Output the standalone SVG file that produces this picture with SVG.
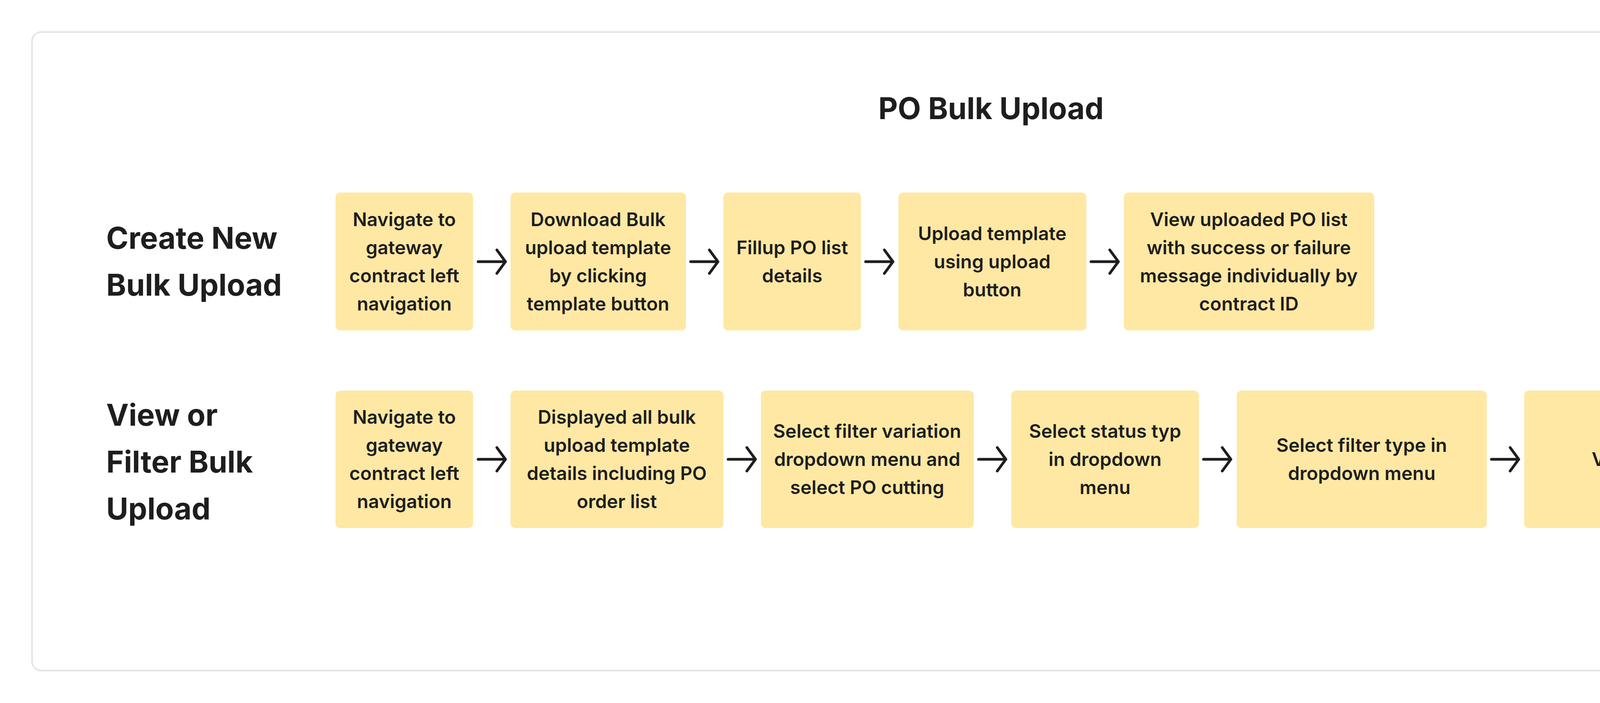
<svg xmlns="http://www.w3.org/2000/svg" width="5024" height="1800" viewBox="0 0 5024 1800">
<style>
.n{fill:#FEE8A3}
.t{font-family:Inter,"Liberation Sans",sans-serif;font-weight:600;font-size:48px;fill:#1e1e1e;text-anchor:middle}
.h{font-family:Inter,"Liberation Sans",sans-serif;font-weight:700;font-size:77px;fill:#1e1e1e}
.c{fill:none;stroke:#1e1e1e;stroke-width:7;stroke-linecap:round;stroke-linejoin:round}
</style>
<rect width="5024" height="1800" fill="#fff"/>
<rect x="82" y="82" width="4862" height="1635" rx="24" fill="#fff" stroke="#e4e4e4" stroke-width="4"/>
<text class="h" x="2537" y="305" text-anchor="middle" font-size="76">PO Bulk Upload</text>
<g id="lbl1"><text class="h" x="272" y="637">Create New</text><text class="h" x="272" y="757">Bulk Upload</text></g>
<g id="lbl2"><text class="h" x="272" y="1090">View or</text><text class="h" x="272" y="1210">Filter Bulk</text><text class="h" x="272" y="1330">Upload</text></g>
<g id="a1"><rect class="n" x="859" y="493" width="352" height="353" rx="12"/><text class="t" x="1035" y="579">Navigate to</text><text class="t" x="1035" y="651">gateway</text><text class="t" x="1035" y="723">contract left</text><text class="t" x="1035" y="795">navigation</text></g>
<g id="a2"><rect class="n" x="1307" y="493" width="449" height="353" rx="12"/><text class="t" x="1531" y="579">Download Bulk</text><text class="t" x="1531" y="651">upload template</text><text class="t" x="1531" y="723">by clicking</text><text class="t" x="1531" y="795">template button</text></g>
<g id="a3"><rect class="n" x="1852" y="493" width="352" height="353" rx="12"/><text class="t" x="2028" y="651">Fillup PO list</text><text class="t" x="2028" y="723">details</text></g>
<g id="a4"><rect class="n" x="2300" y="493" width="481" height="353" rx="12"/><text class="t" x="2540" y="615">Upload template</text><text class="t" x="2540" y="687">using upload</text><text class="t" x="2540" y="759">button</text></g>
<g id="a5"><rect class="n" x="2877" y="493" width="641" height="353" rx="12"/><text class="t" x="3197" y="579">View uploaded PO list</text><text class="t" x="3197" y="651">with success or failure</text><text class="t" x="3197" y="723">message individually by</text><text class="t" x="3197" y="795">contract ID</text></g>
<g id="b1"><rect class="n" x="859" y="1000" width="352" height="352" rx="12"/><text class="t" x="1035" y="1085">Navigate to</text><text class="t" x="1035" y="1157">gateway</text><text class="t" x="1035" y="1229">contract left</text><text class="t" x="1035" y="1301">navigation</text></g>
<g id="b2"><rect class="n" x="1307" y="1000" width="545" height="352" rx="12"/><text class="t" x="1579" y="1085">Displayed all bulk</text><text class="t" x="1579" y="1157">upload template</text><text class="t" x="1579" y="1229">details including PO</text><text class="t" x="1579" y="1301">order list</text></g>
<g id="b3"><rect class="n" x="1948" y="1000" width="545" height="352" rx="12"/><text class="t" x="2220" y="1121">Select filter variation</text><text class="t" x="2220" y="1193">dropdown menu and</text><text class="t" x="2220" y="1265">select PO cutting</text></g>
<g id="b4"><rect class="n" x="2589" y="1000" width="480" height="352" rx="12"/><text class="t" x="2829" y="1121">Select status typ</text><text class="t" x="2829" y="1193">in dropdown</text><text class="t" x="2829" y="1265">menu</text></g>
<g id="b5"><rect class="n" x="3166" y="1000" width="640" height="352" rx="12"/><text class="t" x="3486" y="1157">Select filter type in</text><text class="t" x="3486" y="1229">dropdown menu</text></g>
<g id="b6"><rect class="n" x="3902" y="1000" width="645" height="352" rx="12"/><text class="t" x="4224" y="1193">View Results</text></g>
<g id="connectors">
<path class="c" d="M1224 670H1294M1272 640L1294 670L1272 700"/>
<path class="c" d="M1768 670H1838M1816 640L1838 670L1816 700"/>
<path class="c" d="M2216 670H2286M2264 640L2286 670L2264 700"/>
<path class="c" d="M2793 670H2863M2841 640L2863 670L2841 700"/>
<path class="c" d="M1224 1176H1294M1272 1146L1294 1176L1272 1206"/>
<path class="c" d="M1864 1176H1934M1912 1146L1934 1176L1912 1206"/>
<path class="c" d="M2505 1176H2575M2553 1146L2575 1176L2553 1206"/>
<path class="c" d="M3081 1176H3151M3129 1146L3151 1176L3129 1206"/>
<path class="c" d="M3818 1176H3888M3866 1146L3888 1176L3866 1206"/>
</g>
</svg>
